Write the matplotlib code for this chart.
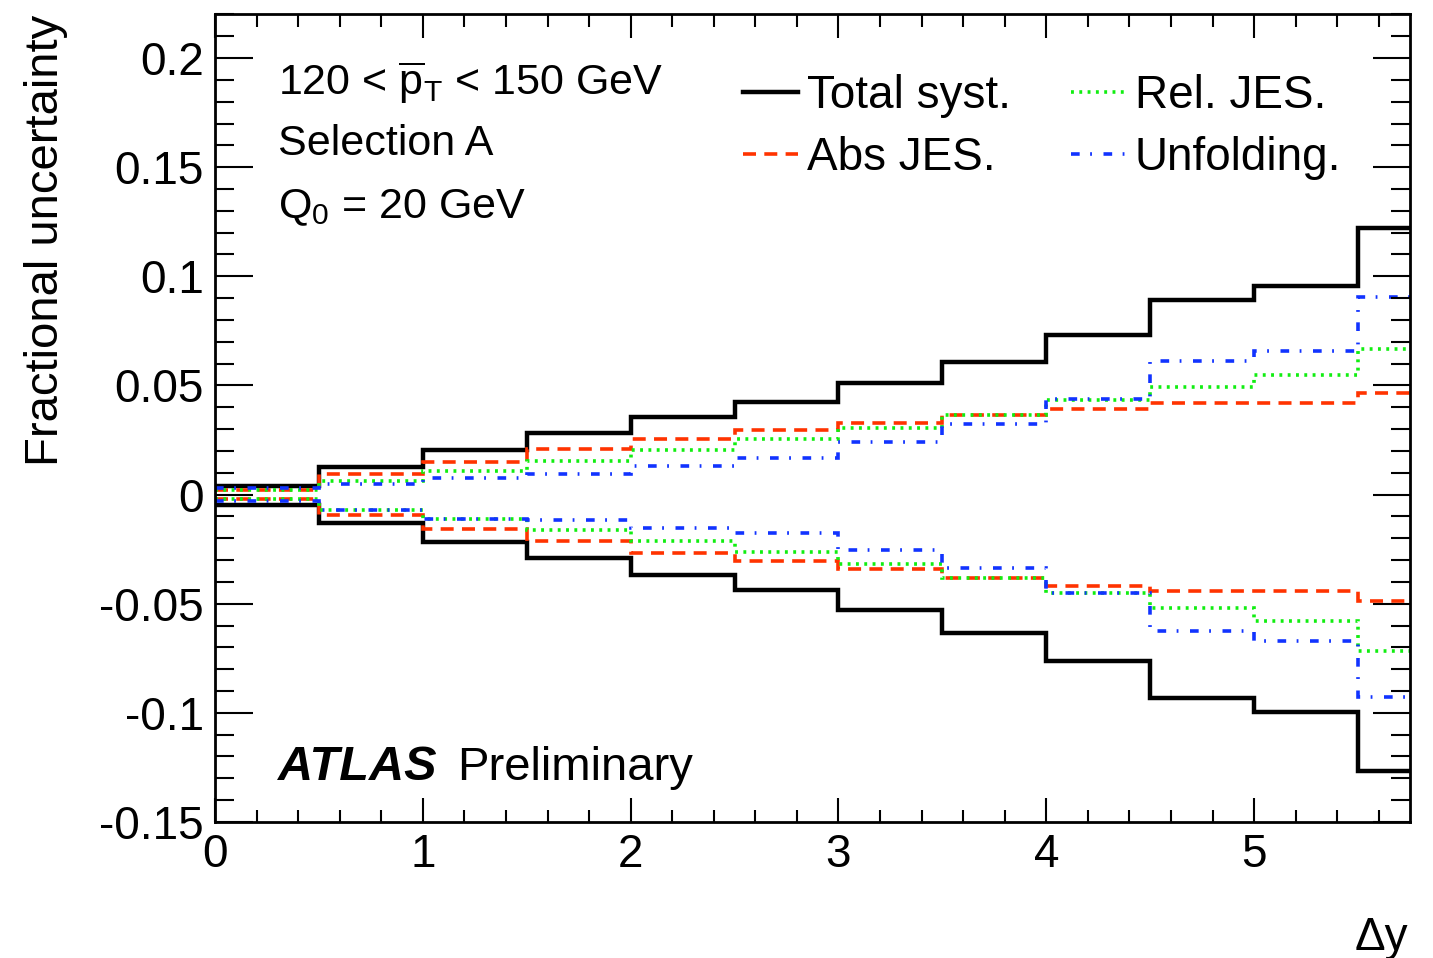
import numpy as np
import matplotlib
matplotlib.use("Agg")
import matplotlib.pyplot as plt
from matplotlib.ticker import MultipleLocator, FixedLocator

plt.rcParams['font.family'] = ['Liberation Sans', 'DejaVu Sans']
plt.rcParams['mathtext.fontset'] = 'custom'
plt.rcParams['mathtext.rm'] = 'Liberation Sans'
plt.rcParams['mathtext.it'] = 'Liberation Sans'
plt.rcParams['axes.unicode_minus'] = False

# Delta y bin edges
edges = [0, 0.5, 1.0, 1.5, 2.0, 2.5, 3.0, 3.5, 4.0, 4.5, 5.0, 5.5, 5.75]

total_up = [0.0040, 0.0124, 0.0206, 0.0280, 0.0356, 0.0423, 0.0511, 0.0607, 0.0729, 0.0893, 0.0954, 0.1223]
total_dn = [-0.0046, -0.0131, -0.0219, -0.0290, -0.0370, -0.0437, -0.0529, -0.0632, -0.0761, -0.0930, -0.0994, -0.1266]

abs_up = [0.0023, 0.0092, 0.0150, 0.0208, 0.0254, 0.0294, 0.0330, 0.0364, 0.0393, 0.0419, 0.0421, 0.0465]
abs_dn = [-0.0020, -0.0092, -0.0156, -0.0214, -0.0266, -0.0306, -0.0343, -0.0382, -0.0417, -0.0440, -0.0443, -0.0489]

rel_up = [0.0020, 0.0064, 0.0107, 0.0156, 0.0205, 0.0254, 0.0306, 0.0364, 0.0434, 0.0495, 0.0547, 0.0667]
rel_dn = [-0.0020, -0.0069, -0.0110, -0.0162, -0.0211, -0.0263, -0.0320, -0.0382, -0.0451, -0.0522, -0.0581, -0.0716]

unf_up = [0.0030, 0.0049, 0.0077, 0.0095, 0.0132, 0.0168, 0.0242, 0.0324, 0.0437, 0.0612, 0.0660, 0.0904]
unf_dn = [-0.0030, -0.0069, -0.0110, -0.0115, -0.0153, -0.0177, -0.0252, -0.0335, -0.0450, -0.0627, -0.0673, -0.0927]

ytick_vals = [-0.15, -0.1, -0.05, 0, 0.05, 0.1, 0.15, 0.2]
ytick_labels = ["-0.15", "-0.1", "-0.05", "0", "0.05", "0.1", "0.15", "0.2"]
xtick_vals = [0, 1, 2, 3, 4, 5]

FS = 33
FS_INFO = 31
RED = '#ff3300'
GREEN = '#11ee11'
BLUE = '#1133ff'

fig = plt.figure(figsize=(14.33, 9.58), dpi=100)
ax = fig.add_axes([0.150, 0.142, 0.834, 0.843])

lw_c = 2.6
dash = (0, (3.6, 2.3))
dot = (0, (0.8, 1.5))
dashdot = (0, (2.4, 2.9, 0.5, 3.2))

# baseline=None: no closing verticals at the outer bin edges
ax.stairs(total_up, edges, baseline=None, color='black', lw=3.2, label='Total syst.')
ax.stairs(total_dn, edges, baseline=None, color='black', lw=3.2)
ax.stairs(abs_up, edges, baseline=None, color=RED, lw=lw_c, ls=dash, label='Abs JES.')
ax.stairs(abs_dn, edges, baseline=None, color=RED, lw=lw_c, ls=dash)
ax.stairs(rel_up, edges, baseline=None, color=GREEN, lw=lw_c, ls=dot, label='Rel. JES.')
ax.stairs(rel_dn, edges, baseline=None, color=GREEN, lw=lw_c, ls=dot)
ax.stairs(unf_up, edges, baseline=None, color=BLUE, lw=lw_c, ls=dashdot, label='Unfolding.')
ax.stairs(unf_dn, edges, baseline=None, color=BLUE, lw=lw_c, ls=dashdot)

ax.set_xlim(0, 5.75)
ax.set_ylim(-0.15, 0.22)

ax.xaxis.set_major_locator(FixedLocator(xtick_vals))
ax.xaxis.set_minor_locator(MultipleLocator(0.2))
ax.set_yticks(ytick_vals)
ax.set_yticklabels(ytick_labels)
ax.yaxis.set_minor_locator(MultipleLocator(0.01))

ax.tick_params(which='both', direction='in', top=True, right=True, width=1.5, labelsize=FS)
ax.tick_params(axis='y', which='major', length=27, pad=8)
ax.tick_params(axis='y', which='minor', length=14)
ax.tick_params(axis='x', which='major', length=17, pad=8)
ax.tick_params(axis='x', which='minor', length=9)
for s in ax.spines.values():
    s.set_linewidth(2.0)

# axis titles placed ROOT-style at the ends of the axes
fig.text(46 / 1433, 1 - 15 / 958, 'Fractional uncertainty', rotation=90,
         ha='center', va='top', fontsize=34)
fig.text(1408 / 1433, 1 - 950 / 958, '\u0394y', ha='right', va='baseline', fontsize=FS)

tx = 0.0527
ax.text(tx, 0.900, r'120 < $\overline{p}_{T}$ < 150 GeV', transform=ax.transAxes,
        fontsize=FS_INFO, va='baseline')
ax.text(tx, 0.8255, 'Selection A', transform=ax.transAxes, fontsize=FS_INFO, va='baseline')
ax.text(tx, 0.7475, r'Q$_{0}$ = 20 GeV', transform=ax.transAxes, fontsize=FS_INFO, va='baseline')

ax.text(tx, 0.052, 'ATLAS', transform=ax.transAxes, fontsize=35,
        fontweight='bold', fontstyle='italic', va='baseline')
ax.text(0.2025, 0.052, 'Preliminary', transform=ax.transAxes, fontsize=34, va='baseline')

ax.legend(ncol=2, loc='upper left', bbox_to_anchor=(0.4417, 0.926), frameon=False,
          fontsize=FS, handlelength=1.2, handletextpad=0.2, columnspacing=1.3,
          labelspacing=0.4, borderaxespad=0, borderpad=0)

fig.savefig('out.png', dpi=100)
